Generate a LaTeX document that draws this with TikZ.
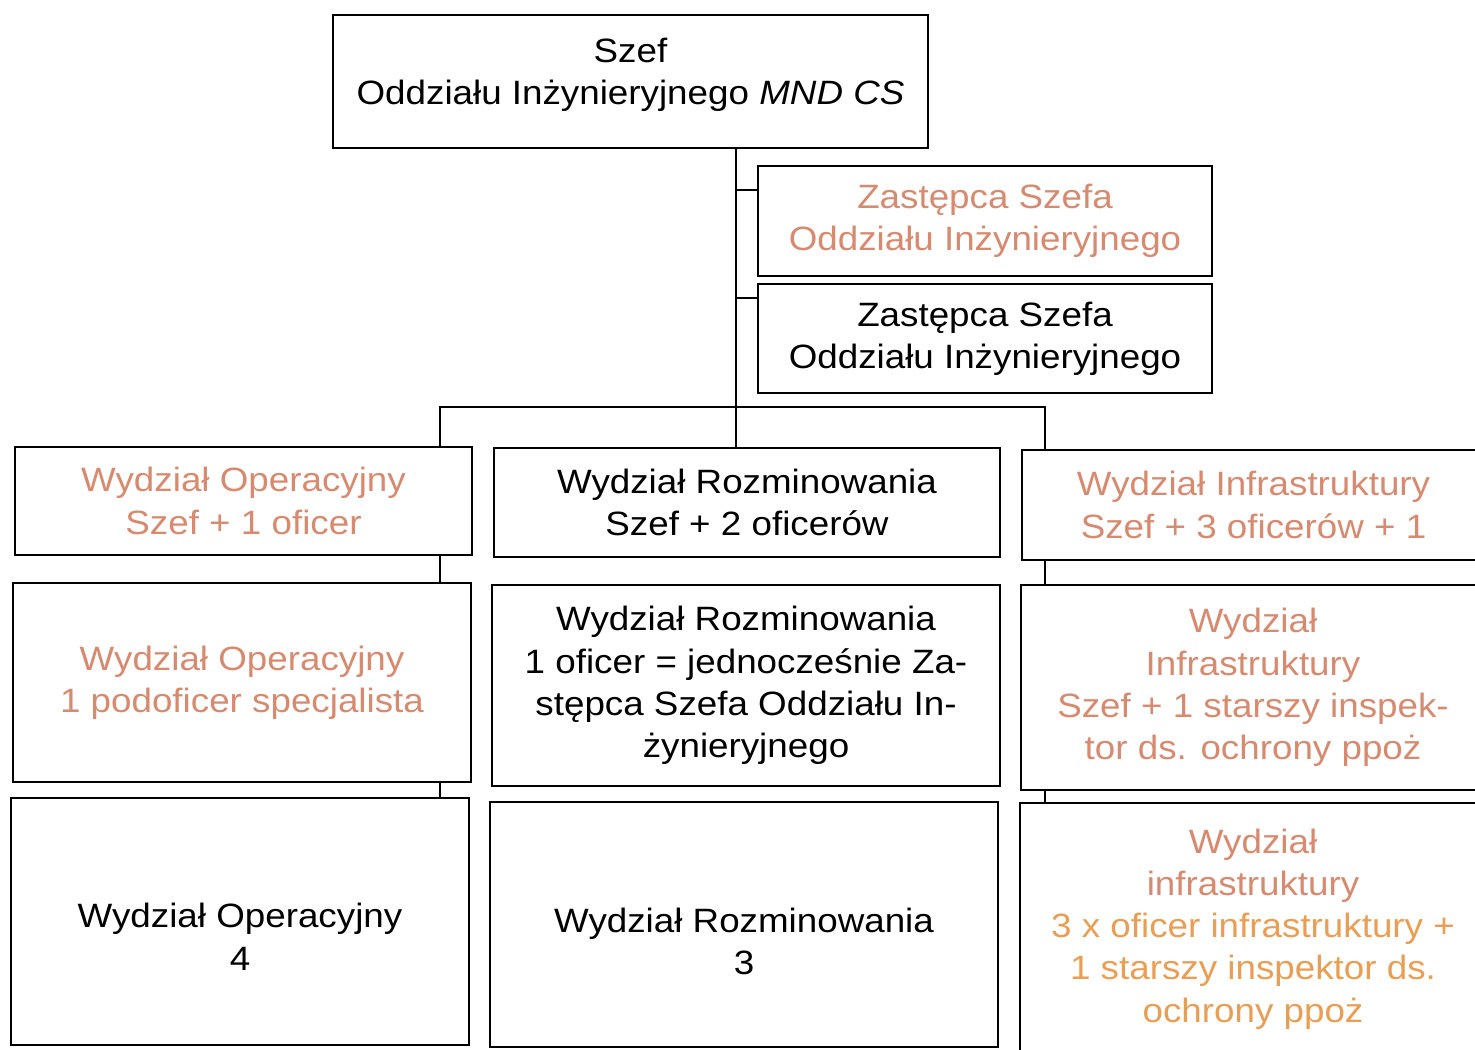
\documentclass[tikz,border=0pt]{standalone}
\usepackage{fontspec}
\setmainfont{Liberation Sans}[FakeStretch=1.09]
\usepackage{tikz}
\definecolor{pale}{RGB}{214,138,112}
\definecolor{paleorange}{RGB}{232,158,84}

\begin{document}
\begin{tikzpicture}[x=0.1mm,y=-0.1mm,
    box/.style={draw,line width=0.7pt,inner sep=0pt,align=center,
      font=\fontsize{9.6}{12}\selectfont},
    link/.style={line width=0.6pt}]
  \useasboundingbox (0,0) rectangle (1475,1049);

  %chief and deputies
  \node[box,minimum width=59.5mm,minimum height=13.3mm] (chief) at (630.5,81.5)
    {Szef\\Oddziału Inżynieryjnego \textit{MND CS}\rule[-2.1mm]{0pt}{0pt}};
  \node[box,text=pale,minimum width=45.4mm,minimum height=11mm] (depA) at (985,221)
    {Zastępca Szefa\\Oddziału Inżynieryjnego};
  \node[box,minimum width=45.4mm,minimum height=10.9mm] (depB) at (985,338.5)
    {Zastępca Szefa\\Oddziału Inżynieryjnego};

  %first row
  \node[box,text=pale,minimum width=45.7mm,minimum height=10.8mm] (opA) at (243.5,501)
    {Wydział Operacyjny\\Szef + 1 oficer};
  \node[box,minimum width=50.6mm,minimum height=10.9mm] (rozA) at (747,502.5)
    {Wydział Rozminowania\\Szef + 2 oficerów};
  \node[box,text=pale,minimum width=46.3mm,minimum height=11mm] (infA) at (1253.5,505)
    {Wydział Infrastruktury\\Szef + 3 oficerów + 1};

  %second row
  \node[box,text=pale,minimum width=45.8mm,minimum height=19.9mm] (opB) at (242,682.5)
    {Wydział Operacyjny\\1 podoficer specjalista};
  \node[box,minimum width=50.8mm,minimum height=20.1mm] (rozB) at (746,685.5)
    {Wydział Rozminowania\\1 oficer = jednocześnie Za-\\stępca Szefa Oddziału In-\\żynieryjnego};
  \node[box,text=pale,minimum width=46.4mm,minimum height=20.5mm] (infB) at (1253,687.5)
    {Wydział\\Infrastruktury\\Szef + 1 starszy inspek-\\tor ds. ochrony ppoż};

  %third row
  \node[box,minimum width=45.8mm,minimum height=24.7mm] (opC) at (240,921.5)
    {\rule{0pt}{5.5mm}Wydział Operacyjny\\4};
  \node[box,minimum width=50.8mm,minimum height=24.5mm] (rozC) at (744,924.5)
    {\rule{0pt}{5.9mm}Wydział Rozminowania\\3};
  \node[box,minimum width=46.6mm,minimum height=25.2mm] (infC) at (1253,929)
    {\textcolor{pale}{Wydział}\\\textcolor{pale}{infrastruktury}\\
     \textcolor{paleorange}{3 x oficer infrastruktury +}\\
     \textcolor{paleorange}{1 starszy inspektor ds.}\\
     \textcolor{paleorange}{ochrony ppoż}};

  %connectors
  \coordinate (bus) at (736,407);
  \coordinate (busL) at (440,407);
  \coordinate (busR) at (1045,407);
  \coordinate (tickA) at (736,190);
  \coordinate (tickB) at (736,298);
  \draw[link] (chief.south -| bus) -- (rozA.north -| bus);
  \draw[link] (tickA) -- (tickA -| depA.west);
  \draw[link] (tickB) -- (tickB -| depB.west);
  \draw[link] (opA.north -| busL) -- (busL) -- (busR) -- (infA.north -| busR);
  \draw[link] (opA.south -| busL) -- (opB.north -| busL);
  \draw[link] (opB.south -| busL) -- (opC.north -| busL);
  \draw[link] (infA.south -| busR) -- (infB.north -| busR);
  \draw[link] (infB.south -| busR) -- (infC.north -| busR);
\end{tikzpicture}
\end{document}
